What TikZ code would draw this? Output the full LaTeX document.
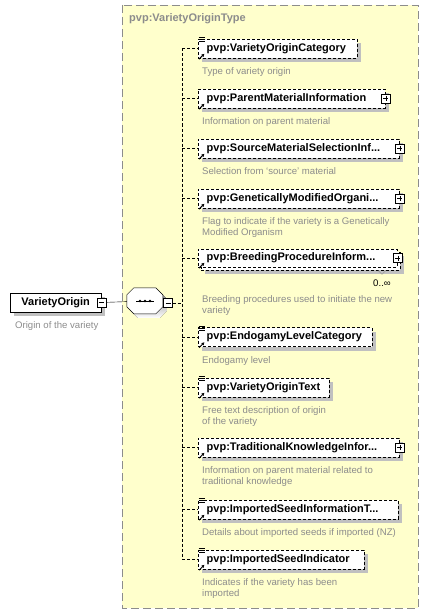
\documentclass[tikz,border=0pt]{standalone}
\usepackage{fontspec}
\setmainfont{Liberation Sans}
\usetikzlibrary{arrows.meta,positioning,calc,shadows}
\definecolor{typebg}{HTML}{FFFFCC}
\definecolor{typeline}{HTML}{8C8C8C}
\definecolor{desc}{HTML}{8C8C8C}
\definecolor{shade}{HTML}{C0C0C0}
\hyphenpenalty=10000

\begin{document}
\begin{tikzpicture}[x=1pt,y=-1pt,>=Latex]
  \tikzstyle{elem}=[draw,fill=white,minimum height=19pt,inner xsep=8.5pt,inner ysep=0pt,anchor=west,align=left,font=\fontsize{11}{13}\selectfont\bfseries]
  \tikzstyle{shad}=[drop shadow={shadow xshift=4pt,shadow yshift=-4pt,fill=shade,opacity=1}]
  \tikzstyle{opt}=[elem,shad,dash pattern=on 3pt off 2pt]
  \tikzstyle{note}=[anchor=base west,inner sep=0pt,align=left,text=desc,font=\fontsize{9.6}{11}\selectfont]
  \tikzstyle{pm}=[draw,fill=white,minimum size=9pt,inner sep=0pt]
  \tikzstyle{minus}=[pm,path picture={\draw ([xshift=2pt]path picture bounding box.west) -- ([xshift=-2pt]path picture bounding box.east);}]
  \tikzstyle{plus}=[pm,path picture={\draw ([xshift=2pt]path picture bounding box.west) -- ([xshift=-2pt]path picture bounding box.east) ([yshift=-2pt]path picture bounding box.north) -- ([yshift=2pt]path picture bounding box.south);}]
  \tikzstyle{conn}=[dash pattern=on 3pt off 2pt]
  \useasboundingbox (0,0) rectangle (430,615);

  % complex type area
  \draw[fill=typebg,draw=typeline,dash pattern=on 8pt off 4pt] (122,5) rectangle (418,608);
  \node[anchor=west,inner sep=0pt,text=typeline,font=\fontsize{11}{13}\selectfont\bfseries] (type) at (129,19) {pvp:VarietyOriginType};

  % root element
  \node[elem,shad,minimum width=91pt] (root) at (10,302.5) {VarietyOrigin};
  \node[note] (rootn) at ($(root.south west)+(5,16.5)$) {Origin of the variety};
  \node[minus] (rootm) at (root.east) {};

  % sequence
  \node[minimum width=36pt,minimum height=26pt,inner sep=0pt] (seq) at (145,301) {};
  \fill[shade] ($(seq.north west)+(11,4)$) -- ++(22,0) -- ++(7,7) -- ++(0,12) -- ++(-7,7) -- ++(-22,0) -- ++(-7,-7) -- ++(0,-12) -- cycle;
  \draw[fill=white] ($(seq.north west)+(7,0)$) -- ++(22,0) -- ++(7,7) -- ++(0,12) -- ++(-7,7) -- ++(-22,0) -- ++(-7,-7) -- ++(0,-12) -- cycle;
  \draw[line width=1pt] ($(seq.center)+(-9,0)$) -- ($(seq.center)+(9,0)$);
  \foreach \dx in {-5,0,5} \fill ($(seq.center)+(\dx,0)$) circle (1.4);
  \node[minus] (seqm) at (168,303) {};
  \draw (rootm) -- (seq);
  \coordinate (bus) at (182,0);

  % children
  \node[opt,text width=142pt] (cat) at (198,48.5) {pvp:VarietyOriginCategory};
  \node[note] (catn) at ($(cat.south west)+(4,16.5)$) {Type of variety origin};
  \node[opt,text width=170pt] (parent) at (198,98.5) {pvp:ParentMaterialInformation};
  \node[note] (parentn) at ($(parent.south west)+(4,16.5)$) {Information on parent material};
  \node[opt,text width=184pt] (source) at (198,148.5) {pvp:SourceMaterialSelectionInf...};
  \node[note] (sourcen) at ($(source.south west)+(4,16.5)$) {Selection from `source' material};
  \node[opt,text width=184pt] (gmo) at (198,198.5) {pvp:GeneticallyModifiedOrgani...};
  \node[note] (gmon) at ($(gmo.south west)+(4,27.5)$) {Flag to indicate if the variety is a Genetically\\Modified Organism};
  \node[opt,text width=182pt,minimum height=18pt] (breedbk) at (201,261) {};
  \node[elem,dash pattern=on 3pt off 2pt,text width=182pt,minimum height=18pt] (breed) at (198,258) {pvp:BreedingProcedureInform...};
  \node[inner sep=0pt,font=\fontsize{9.6}{11}\selectfont] (breedm) at (382,283) {0..∞};
  \draw[typeline] ($(breedm.north)+(-4,-9)$) -- ($(breedm.north)+(0,-5)$) -- ($(breedm.north)+(4,-9)$);
  \node[note] (breedn) at ($(breedbk.south west)+(1,43)$) {Breeding procedures used to initiate the new\\variety};
  \node[opt,text width=157pt] (endog) at (198,337) {pvp:EndogamyLevelCategory};
  \node[note] (endogn) at ($(endog.south west)+(4,16.5)$) {Endogamy level};
  \node[opt,text width=114pt] (text) at (198,387.5) {pvp:VarietyOriginText};
  \node[note] (textn) at ($(text.south west)+(4,27.5)$) {Free text description of origin\\of the variety};
  \node[opt,text width=184pt] (trad) at (198,447.5) {pvp:TraditionalKnowledgeInfor...};
  \node[note] (tradn) at ($(trad.south west)+(4,27.5)$) {Information on parent material related to\\traditional knowledge};
  \node[opt,text width=183pt] (impinfo) at (198,509.5) {pvp:ImportedSeedInformationT...};
  \node[note] (impinfon) at ($(impinfo.south west)+(4,16.5)$) {Details about imported seeds if imported (NZ)};
  \node[opt,text width=149pt] (impind) at (198,559.5) {pvp:ImportedSeedIndicator};
  \node[note] (impindn) at ($(impind.south west)+(4,27.5)$) {Indicates if the variety has been\\imported};

  % expand boxes and icons
  \foreach \n in {parent,source,gmo,breed,trad}
    \node[plus] (\n p) at ($(\n.east)+(0.5,0)$) {};
  \foreach \n in {cat,endog,text,impinfo,impind}
    \foreach \dy in {-1.5,0.5,2.5}
      \draw ($(\n.north west)+(0.5,\dy)$) -- ++(6,0);
  \foreach \n in {cat,parent,source,gmo,breed,endog,text,trad,impinfo,impind}
    \draw[-{Latex[length=3pt,width=3.5pt]},line width=1pt] ($(\n.south west)+(1,1)$) -- ++(5.5,-5.5);

  % connectors
  \draw[conn] (seqm.east) -- (seqm.east -| bus);
  \draw[conn] (cat.west -| bus) -- (impind.west -| bus);
  \foreach \n in {cat,parent,source,gmo,breed,endog,text,trad,impinfo,impind}
    \draw[conn] (\n.west -| bus) -- (\n.west);
\end{tikzpicture}
\end{document}
